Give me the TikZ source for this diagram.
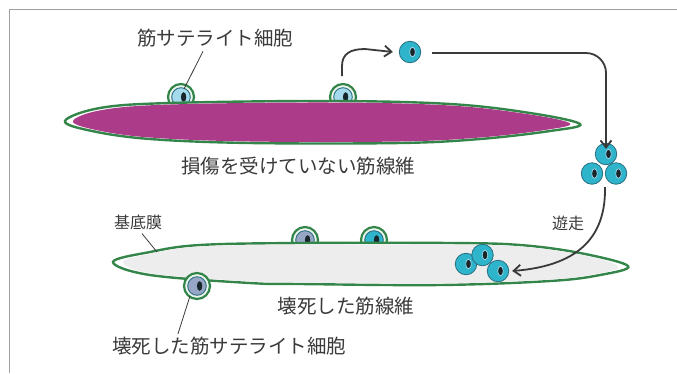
\documentclass[tikz,border=0pt]{standalone}
\usepackage{fontspec}
\setmainfont{Noto Sans CJK JP}
\usetikzlibrary{arrows.meta,calc}

\definecolor{fibergreen}{HTML}{33854A}
\definecolor{fibermag}{HTML}{AC3C8A}
\definecolor{deadfill}{HTML}{EDEDED}
\definecolor{ringpale}{HTML}{EAF5EC}
\definecolor{cellpale}{HTML}{A4DAEC}
\definecolor{celldead}{HTML}{98A6C6}
\definecolor{cellcyan}{HTML}{2EB4CB}
\definecolor{celledge}{HTML}{2A6E80}
\definecolor{nucleus}{HTML}{18262C}
\definecolor{ink}{HTML}{3A3A3A}
\definecolor{framegray}{HTML}{A0A0A0}

\tikzset{
  % inner cell body with its nucleus, drawn inside a node
  body/.style={path picture={
      \fill[#1, draw=celledge, line width=0.9pt]
        (path picture bounding box.center) circle (9.3pt);
      \fill[nucleus] ([xshift=2.6pt]path picture bounding box.center)
        ellipse (2.7pt and 4.8pt);}},
  satcell/.style={circle, inner sep=0pt, minimum size=26pt,
    draw=fibergreen, line width=2.2pt, fill=ringpale, body=#1},
  freecell/.style={circle, inner sep=0pt, minimum size=21.5pt,
    draw=celledge, line width=0.8pt, fill=cellcyan,
    path picture={
      \fill[nucleus, draw=cellpale, line width=0.7pt]
        ([xshift=2.5pt]path picture bounding box.center)
        ellipse (2.8pt and 4.8pt);}},
  fiberline/.style={draw=fibergreen, line width=2.4pt, fill=white},
  flow/.style={draw=ink, line width=1.8pt,
    -{Straight Barb[length=7pt,width=11pt,line width=1.8pt]}},
  leader/.style={draw=ink, line width=0.8pt},
  biglabel/.style={text=ink, inner sep=0pt, font=\fontsize{19.5}{20}\selectfont},
  smalllabel/.style={text=ink, inner sep=0pt, font=\fontsize{16}{17}\selectfont},
}

\begin{document}
\begin{tikzpicture}[x=1pt, y=-1pt]
\path[use as bounding box] (0,0) rectangle (677,373);

% frame
\draw[framegray, line width=0.7pt] (9,373) -- (9,9) -- (677,9);

% satellite cells resting on the fibres (partly hidden by them)
\node[satcell=cellpale] (s1) at (181,97) {};
\node[satcell=cellpale] (s2) at (343,97) {};
\node[satcell=celldead] (d1) at (305,240) {};
\node[satcell=cellcyan] (r1) at (374,240) {};

% intact muscle fibre
\path[fiberline] plot[smooth cycle, tension=0.6] coordinates {
  (65,121) (100,108) (170,103) (330,101) (450,104) (530,113) (580,124)
  (550,131) (480,139) (400,143) (250,143) (150,139) (92,131)};
\fill[fibermag] plot[smooth cycle, tension=0.6] coordinates {
  (73,121) (102,110) (170,104.5) (330,102.5) (450,105.5) (530,114.5) (570,123.5)
  (545,130) (480,137.5) (400,141.5) (250,141.5) (150,137.5) (96,130)};

% necrotic muscle fibre
\path[fiberline] plot[smooth cycle, tension=0.6] coordinates {
  (113,262) (150,252) (200,245) (300,243) (450,243) (520,245) (580,253) (628,266)
  (600,275) (550,281) (440,285) (300,284) (250,283) (150,275)};
\fill[deadfill] plot[smooth cycle, tension=0.6] coordinates {
  (123,262) (152,253.5) (200,246.5) (300,244.5) (450,244.5) (520,246.5) (580,254.5) (618,266)
  (598,273.5) (550,279.5) (440,283.5) (300,282.5) (250,281.5) (152,273.5)};

% necrotic satellite cell below the fibre
\node[satcell=celldead] (d2) at (197,286) {};

% activated cell leaving the fibre
\node[freecell] (f1) at (410,52) {};

% proliferating cells
\node[freecell] (p1) at (606,154) {};
\node[freecell] (p2) at (592,173.5) {};
\node[freecell] (p3) at (616,173.5) {};

% cells that migrated into the necrotic fibre
\node[freecell] (m1) at (466,264) {};
\node[freecell] (m2) at (482.5,255) {};
\node[freecell] (m3) at (498,271) {};

% labels
\node[biglabel] (l1) at (215,38) {筋サテライト細胞};
\node[biglabel] (l2) at (298,166) {損傷を受けていない筋線維};
\node[smalllabel] (l3) at (138,222) {基底膜};
\node[smalllabel] (l4) at (568,223) {遊走};
\node[biglabel] (l5) at (346,306) {壊死した筋線維};
\node[biglabel] (l6) at (229,346) {壊死した筋サテライト細胞};

% leader lines
\coordinate (memb) at (157,252);
\draw[leader] ([xshift=-12pt, yshift=-4pt]l1.south) -- ([shift={(3,-8)}]s1.center);
\draw[leader] ([xshift=4pt, yshift=-4pt]l3.south) -- (memb);
\draw[leader] ([shift={(-7,10)}]d2.center) -- ([xshift=-51pt, yshift=3pt]l6.north);

% arrows
\coordinate (a1) at (342,76);
\draw[flow] (a1) -- (342,66) .. controls (342,54) and (350,49) .. (365,49)
  -- ([xshift=-6pt]f1.west);
\coordinate (a2) at (432,53);
\draw[flow, rounded corners=20pt] (a2) -- (606,53) -- ([yshift=-6pt]p1.north);
\coordinate (a3) at (605,187);
\draw[flow] (a3) .. controls (606,240) and (575,266) .. ([xshift=3pt]m3.east);
\end{tikzpicture}
\end{document}
